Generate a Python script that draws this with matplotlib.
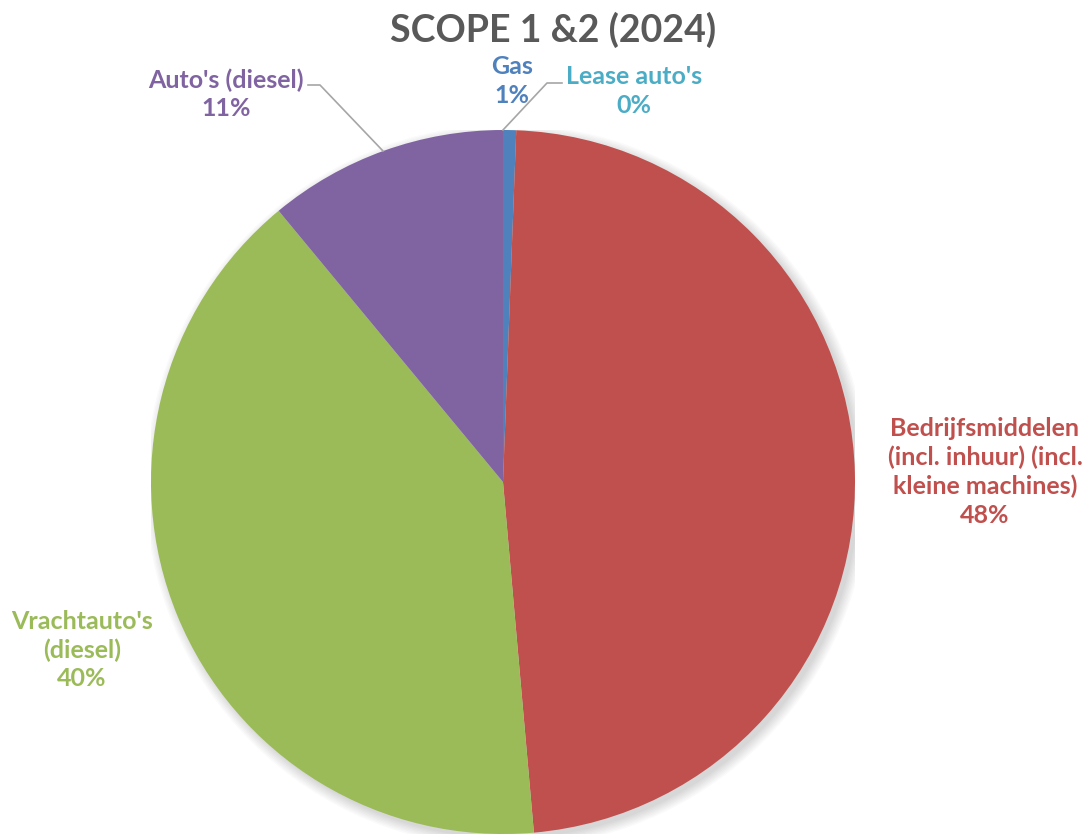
import matplotlib.pyplot as plt
from matplotlib.patches import Circle

# data, clockwise from 12 o'clock
categories = ["Lease auto's", "Gas", "Bedrijfsmiddelen\n(incl. inhuur) (incl.\nkleine machines)",
              "Vrachtauto's\n(diesel)", "Auto's (diesel)"]
values = [0.0, 0.6, 48.0, 40.4, 11.0]
colors = ["#4BACC6", "#4F81BD", "#C0504D", "#9BBB59", "#8064A2"]

plt.rcParams['font.family'] = ['Lato', 'DejaVu Sans']

W, H = 1089, 835
fig = plt.figure(figsize=(W / 100, H / 100), dpi=100)

# pie centre and radius in pixels
cx, cy, r = 503, 482, 352
ax = fig.add_axes([(cx - r) / W, (H - cy - r) / H, 2 * r / W, 2 * r / H])
ax.axis('off')

# soft shadow
for i in range(8):
    ax.add_patch(Circle((0.012, -0.012), 1.0 + 0.004 * i, color='black',
                        alpha=0.018, lw=0, zorder=0))

ax.pie(values, colors=colors, startangle=90, counterclock=False, radius=1,
       wedgeprops=dict(linewidth=0), frame=False)
ax.set_xlim(-1, 1)
ax.set_ylim(-1, 1)
ax.set_aspect('equal')


def px(x, y):
    return x / W, 1 - y / H


fig.text(*px(553, 30), "SCOPE 1 &2 (2024)", ha='center', va='center',
         fontsize=27, fontweight='bold', color='#595959')

total = sum(values)
label_pos = [(634, 91), (512, 81), (985, 472), (82, 650), (226, 94)]
for name, v, col, (x, y) in zip(categories, values, colors, label_pos):
    pct = f"{v / total * 100:.0f}%"
    fig.text(*px(x, y), name + "\n" + pct, ha='center', va='center',
             fontsize=18, fontweight='bold', color=col, linespacing=1.28)

# leader lines
lines = [
    [(503, 130), (547, 83), (562, 83)],
    [(383, 151), (320, 85), (308, 85)],
]
for pts in lines:
    xs = [p[0] / W for p in pts]
    ys = [1 - p[1] / H for p in pts]
    fig.add_artist(plt.Line2D(xs, ys, color='#A6A6A6', lw=1.2))

fig.savefig("out.png", dpi=100)
